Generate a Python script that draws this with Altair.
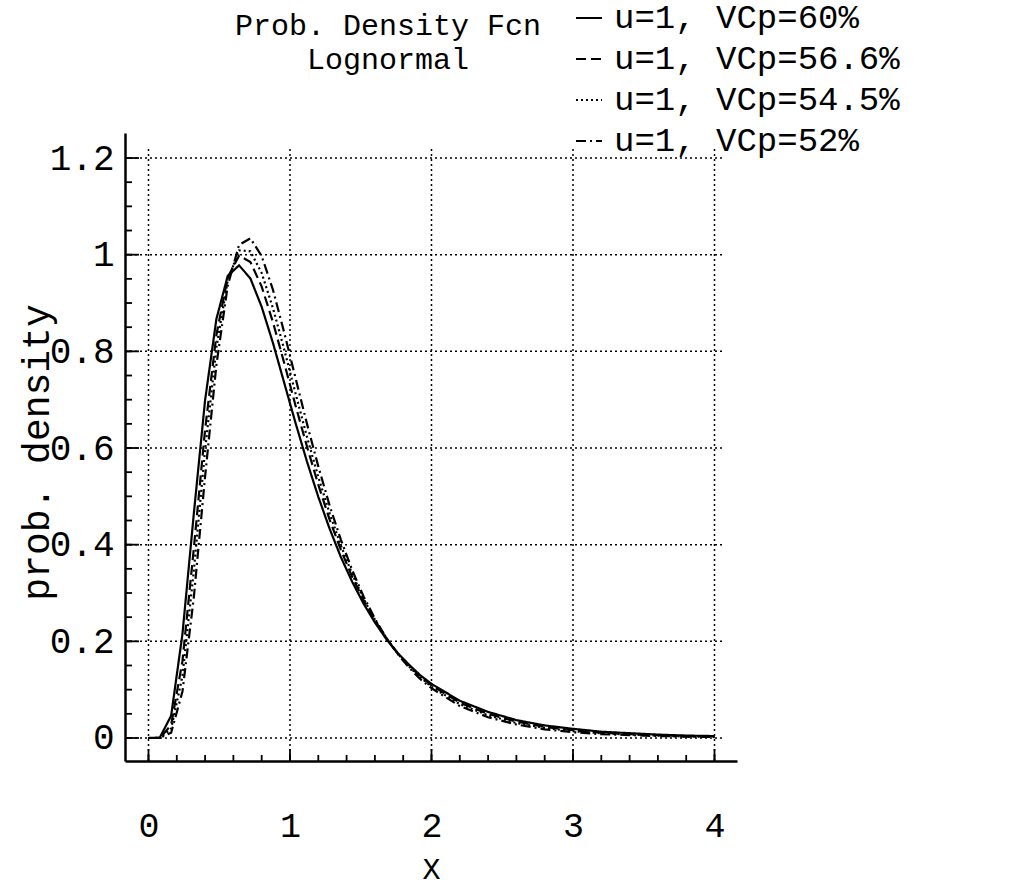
import altair as alt
import pandas as pd

# ---- data (x step 0.08 up to 2, then 0.2) ----
x_vals = [0, 0.08, 0.16, 0.24, 0.32, 0.40, 0.48, 0.56, 0.64, 0.72, 0.80, 0.88,
          0.96, 1.04, 1.12, 1.20, 1.28, 1.36, 1.44, 1.52, 1.60, 1.68, 1.76,
          1.84, 1.92, 2.00, 2.2, 2.4, 2.6, 2.8, 3.0, 3.2, 3.4, 3.6, 3.8, 4.0]

pdf_vcp60 = [0, 0.001, 0.046, 0.215, 0.463, 0.699, 0.867, 0.956, 0.978, 0.951,
             0.892, 0.817, 0.734, 0.651, 0.572, 0.499, 0.433, 0.374, 0.323,
             0.278, 0.239, 0.205, 0.176, 0.152, 0.130, 0.112, 0.077, 0.054,
             0.037, 0.026, 0.019, 0.013, 0.010, 0.007, 0.005, 0.004]
pdf_vcp566 = [0, 0.000, 0.027, 0.159, 0.391, 0.638, 0.834, 0.953, 0.998, 0.985,
              0.934, 0.860, 0.775, 0.687, 0.603, 0.524, 0.452, 0.389, 0.333,
              0.285, 0.243, 0.207, 0.176, 0.150, 0.128, 0.109, 0.073, 0.050,
              0.034, 0.023, 0.016, 0.011, 0.008, 0.006, 0.004, 0.003]
pdf_vcp545 = [0, 0.000, 0.019, 0.128, 0.345, 0.596, 0.808, 0.947, 1.009, 1.007,
              0.962, 0.889, 0.803, 0.712, 0.623, 0.540, 0.465, 0.398, 0.339,
              0.288, 0.245, 0.207, 0.175, 0.148, 0.126, 0.106, 0.070, 0.047,
              0.031, 0.021, 0.014, 0.010, 0.007, 0.005, 0.003, 0.002]
pdf_vcp52 = [0, 0.000, 0.011, 0.096, 0.290, 0.541, 0.772, 0.936, 1.020, 1.034,
             0.997, 0.927, 0.838, 0.744, 0.650, 0.562, 0.481, 0.410, 0.347,
             0.293, 0.247, 0.207, 0.174, 0.146, 0.122, 0.103, 0.066, 0.043,
             0.028, 0.018, 0.012, 0.008, 0.006, 0.004, 0.003, 0.002]

series = ["u=1, VCp=60%", "u=1, VCp=56.6%", "u=1, VCp=54.5%", "u=1, VCp=52%"]
dashes = [[1, 0], [10, 5], [2, 3], [10, 4, 2, 4]]

x_ticks = [0, 1, 2, 3, 4]
y_ticks = [0, 0.2, 0.4, 0.6, 0.8, 1.0, 1.2]
x_minor = [round(0.2 * i, 2) for i in range(21)]
y_minor = [round(0.05 * i, 2) for i in range(25)]
title_lines = ["Prob. Density Fcn", "Lognormal"]

rows = []
for name, ys in zip(series, [pdf_vcp60, pdf_vcp566, pdf_vcp545, pdf_vcp52]):
    for xv, yv in zip(x_vals, ys):
        rows.append({"x": xv, "y": yv, "series": name})
df = pd.DataFrame(rows)

FONT = "Liberation Mono"
W, H = 612, 628
xscale = alt.Scale(domain=[-0.166, 4.159], nice=False, zero=False)
yscale = alt.Scale(domain=[-0.0476, 1.2518], nice=False, zero=False)

x_axis = alt.Axis(
    values=x_ticks, title="X", grid=False, ticks=False, tickSize=0,
    domainColor="black", domainWidth=2.5,
    labelFont=FONT, labelFontSize=35, labelColor="black",
    labelPadding=64, labelBaseline="middle", labelFlush=False,
    titleFont=FONT, titleFontSize=30, titleFontWeight="normal", titleColor="black",
    titleX=306, titleY=108, titleBaseline="middle", titleAlign="center")
y_axis = alt.Axis(
    values=y_ticks, format="~g", title="prob. density", grid=False,
    ticks=False, tickSize=0, domainColor="black", domainWidth=2.5,
    labelFont=FONT, labelFontSize=36, labelColor="black", labelPadding=11,
    labelFlush=False,
    titleFont=FONT, titleFontSize=38, titleFontWeight="normal", titleColor="black",
    titleAngle=270, titleX=-88, titleY=319, titleAlign="center",
    titleBaseline="middle")

grid_style = dict(color="black", strokeWidth=1.5, strokeDash=[2, 3])

vgrid = alt.Chart(pd.DataFrame({"x": x_ticks})).mark_rule(**grid_style).encode(
    x=alt.X("x:Q", scale=xscale, axis=x_axis),
    y=alt.value(H), y2=alt.value(14))
hgrid = alt.Chart(pd.DataFrame({"y": y_ticks})).mark_rule(**grid_style).encode(
    y=alt.Y("y:Q", scale=yscale, axis=y_axis),
    x=alt.value(0), x2=alt.value(600))

tick_style = dict(color="black", strokeWidth=1.8)
xminor = alt.Chart(pd.DataFrame({"x": x_minor})).mark_rule(**tick_style).encode(
    x=alt.X("x:Q", scale=xscale, axis=x_axis), y=alt.value(H), y2=alt.value(H - 6))
xmajor = alt.Chart(pd.DataFrame({"x": x_ticks})).mark_rule(**tick_style).encode(
    x=alt.X("x:Q", scale=xscale, axis=x_axis), y=alt.value(H), y2=alt.value(H - 12))
yminor = alt.Chart(pd.DataFrame({"y": y_minor})).mark_rule(**tick_style).encode(
    y=alt.Y("y:Q", scale=yscale, axis=y_axis), x=alt.value(0), x2=alt.value(7))
ymajor = alt.Chart(pd.DataFrame({"y": y_ticks})).mark_rule(**tick_style).encode(
    y=alt.Y("y:Q", scale=yscale, axis=y_axis), x=alt.value(0), x2=alt.value(14))

curves = alt.Chart(df).mark_line(color="black", strokeWidth=2.2).encode(
    x=alt.X("x:Q", scale=xscale, axis=x_axis),
    y=alt.Y("y:Q", scale=yscale, axis=y_axis),
    strokeDash=alt.StrokeDash("series:N", sort=series,
        scale=alt.Scale(domain=series, range=dashes),
        legend=alt.Legend(orient="none", legendX=447, legendY=-132, title=None,
                          padding=0, symbolType="stroke", symbolSize=676,
                          symbolStrokeWidth=2, labelFont=FONT, labelFontSize=34,
                          labelColor="black", labelOffset=8, rowPadding=7,
                          labelLimit=0)),
)

title_text = alt.Chart(pd.DataFrame({"t": ["\n".join(title_lines)]})).mark_text(
    font=FONT, fontSize=30, lineBreak="\n", lineHeight=34, align="center",
    baseline="alphabetic", color="black").encode(
    text="t:N", x=alt.value(263), y=alt.value(35 - 133))

chart = alt.layer(vgrid, hgrid, xminor, xmajor, yminor, ymajor, curves, title_text).properties(
    width=W, height=H,
    autosize=alt.AutoSizeParams(type="none"),
    padding={"left": 125, "top": 133, "right": 292, "bottom": 128},
    background="white",
).configure_view(stroke=None)

chart.save("out.html", embed_options={"renderer": "svg", "actions": False})
